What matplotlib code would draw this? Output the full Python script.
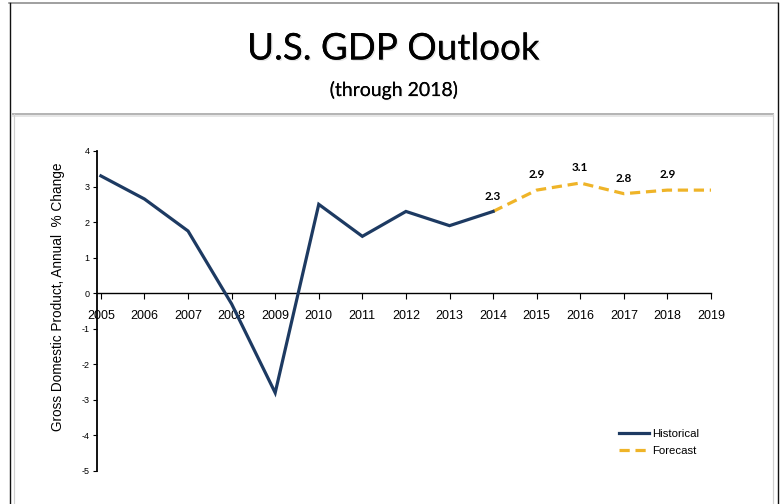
import matplotlib.pyplot as plt
import matplotlib.patheffects as pe
from matplotlib.lines import Line2D

# data
hist_years = [2005, 2006, 2007, 2008, 2009, 2010, 2011, 2012, 2013, 2014]
hist_values = [3.3, 2.65, 1.75, -0.3, -2.8, 2.5, 1.6, 2.3, 1.9, 2.3]
fcst_years = [2014, 2015, 2016, 2017, 2018, 2019]
fcst_values = [2.3, 2.9, 3.1, 2.8, 2.9, 2.9]
fcst_labels = ["2.3", "2.9", "3.1", "2.8", "2.9", ""]
year_ticks = list(range(2005, 2020))
y_ticks = [4, 3, 2, 1, 0, -1, -2, -3, -4, -5]

W, H = 781, 504
navy = "#1d3a62"
gold = "#efb428"

fig = plt.figure(figsize=(W / 100, H / 100), dpi=100)

def px(x, y):
    return x / W, 1 - y / H

# outer frame
for (x0, y0), (x1, y1), c, lw in [
    ((9, 3), (778, 3), "#8a8a8a", 1.6),
    ((9.5, 3), (9.5, 504), "#111111", 1.4),
    ((778, 3), (778, 504), "#111111", 1.4),
    ((13, 116), (773, 116), "#e6e6e6", 2.0),
    ((13, 114), (773, 114), "#b5b5b5", 2.0),
    ((13.5, 114), (13.5, 504), "#d0d0d0", 1.2),
    ((773, 114), (773, 504), "#d0d0d0", 1.2),
]:
    a, b = px(x0, y0), px(x1, y1)
    fig.add_artist(Line2D([a[0], b[0]], [a[1], b[1]], color=c, lw=lw * 0.72,
                          transform=fig.transFigure))

shadow = [pe.withSimplePatchShadow(offset=(1.0, -1.0), shadow_rgbFace="#aaaaaa", alpha=0.3), pe.Normal()]
t = fig.text(*px(393, 49), "U.S. GDP Outlook", ha="center", va="center",
             fontsize=26.5, family="Lato", color="black")
t.set_path_effects(shadow)
s = fig.text(*px(394, 90), "(through 2018)", ha="center", va="center",
             fontsize=14, family="Lato", color="black")
s.set_path_effects([pe.withSimplePatchShadow(offset=(0.8, -0.8), shadow_rgbFace="#cccccc", alpha=0.25), pe.Normal()])

# plotting area
left, right, top, bottom = 96.5, 711, 151, 471
ax = fig.add_axes([left / W, 1 - bottom / H, (right - left) / W, (bottom - top) / H])
ax.set_xlim(2004.9, 2019)
ax.set_ylim(-5, 4)

ax.plot(hist_years, hist_values, color=navy, lw=2.3, solid_joinstyle="miter",
        label="Historical", zorder=3)
ax.plot(fcst_years, fcst_values, color=gold, lw=2.3, linestyle=(0, (3.2, 1.8)),
        label="Forecast", zorder=2)

for x, y, lab in zip(fcst_years, fcst_values, fcst_labels):
    if lab:
        ax.annotate(lab, (x, y), xytext=(0, 11), textcoords="offset points",
                    ha="center", va="center", fontsize=8.5, fontweight="bold",
                    family="Lato")

for side in ["top", "right"]:
    ax.spines[side].set_visible(False)
ax.spines["bottom"].set_position(("data", 0))
ax.spines["left"].set_linewidth(1.3)
ax.spines["bottom"].set_linewidth(1.0)

ax.set_xticks(year_ticks)
ax.set_xticklabels([str(y) for y in year_ticks], family="Liberation Sans", fontsize=9)
ax.tick_params(axis="x", direction="out", length=4, width=0.8, pad=8)
ax.set_yticks(y_ticks)
ax.set_yticklabels([str(v) for v in y_ticks], family="Liberation Sans", fontsize=6.5)
ax.tick_params(axis="y", direction="out", length=3, width=0.8, pad=2)

ax.set_ylabel("Gross Domestic Product, Annual  % Change", family="Liberation Sans",
              fontsize=9.8)
ax.yaxis.set_label_coords(-0.051, 0.543)

fig.legend(loc="upper left", bbox_to_anchor=px(619, 429), frameon=False,
           borderpad=0, borderaxespad=0, handlelength=2.6, handletextpad=0.3,
           labelspacing=0.65, prop={"family": "Liberation Sans", "size": 8.2})

fig.savefig("out.png", dpi=100)
